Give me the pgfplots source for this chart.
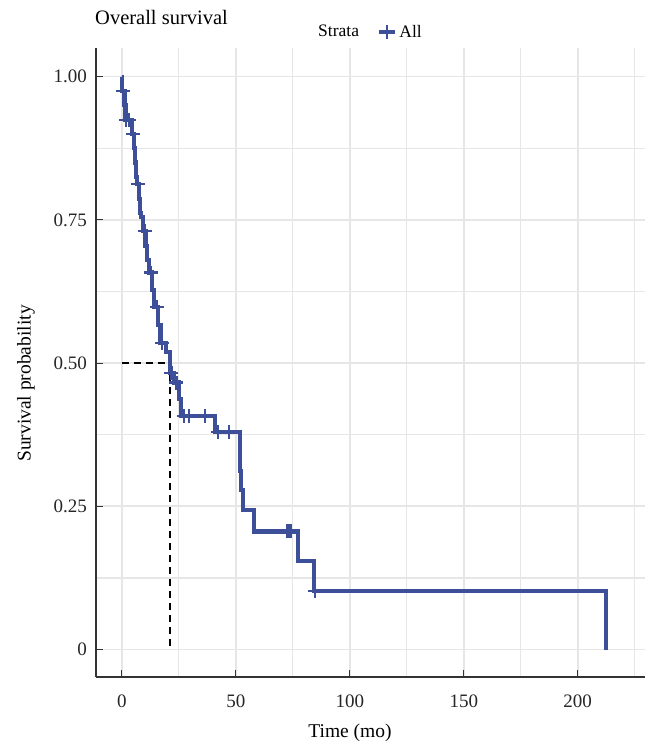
\documentclass[border=0pt]{standalone}
\usepackage{fontspec}
\setmainfont{Liberation Serif}
\usepackage{pgfplots}
\pgfplotsset{compat=1.18}
\definecolor{kmblue}{RGB}{62,79,153}
\definecolor{gridc}{RGB}{230,230,230}
\begin{document}
\begin{tikzpicture}
\useasboundingbox (-96bp,-67bp) rectangle (552bp,677bp);
\begin{axis}[
 at={(0,0)}, anchor=south west,
 scale only axis, width=549bp, height=629bp,
 xmin=-11.3, xmax=229.5, ymin=-0.048, ymax=1.05,
 axis x line*=bottom, axis y line*=left,
 axis line style={line width=1.1bp, color=black!80},
 xtick={0,50,100,150,200},
 minor xtick={25,75,125,175,225},
 ytick={0,0.25,0.5,0.75,1},
 yticklabels={0,0.25,0.50,0.75,1.00},
 minor ytick={0.125,0.375,0.625,0.875},
 tick align=inside,
 major tick length=7bp, minor tick length=0pt,
 major tick style={line width=1bp,color=black!80},
 grid=both,
 major grid style={line width=1.6bp,color=gridc},
 minor grid style={line width=1.4bp,color=gridc},
 tick label style={font=\fontsize{19bp}{22bp}\selectfont, color=black!85},
 xticklabel style={inner sep=0pt, yshift=-18bp},
 yticklabel style={inner sep=0pt, xshift=-9bp},
 /pgf/number format/assume math mode=true,
 clip=false,
 legend style={draw=none, fill=none, at={(axis description cs:0.512,1.0254)}, anchor=west,
   inner sep=0pt, font=\fontsize{17.5bp}{20bp}\selectfont},
 legend cell align=left,
]
\addplot[black, line width=2.2bp, dash pattern=on 7bp off 5bp, forget plot] coordinates {(0,0.5)(21,0.5)(21,0)};
\addplot[const plot, kmblue, line width=4.2bp, line join=miter,
  legend image code/.code={\draw[kmblue, line width=4.2bp] (0bp,0bp) -- (16bp,0bp); \draw[kmblue, line width=2.2bp] (8bp,-7bp) -- (8bp,7bp);}]
 coordinates {
 (0,1) (0.2,0.975) (1.2,0.95) (1.6,0.925) (4.4,0.90) (5.3,0.875) (5.8,0.85) (6.3,0.825)
 (6.8,0.8125) (7.4,0.787) (7.9,0.762) (8.4,0.755) (9.2,0.73) (10.4,0.704) (11.2,0.68)
 (11.9,0.658) (13.2,0.628) (14.2,0.598) (15.9,0.567) (17.0,0.535) (19.3,0.52)
 (21.0,0.483) (22.8,0.466) (25.0,0.437) (25.9,0.408) (40.8,0.38) (51.8,0.345)
 (52.0,0.312) (52.4,0.278) (53.3,0.243) (58.0,0.206) (77.3,0.154) (84.3,0.102) (212.3,0)
 };
\addlegendentry{All}
\addplot[only marks, mark=+, mark size=7bp, kmblue, mark options={line width=2.2bp}, forget plot]
 coordinates {
 (0.5,0.975) (1.9,0.925) (3.2,0.925) (5.0,0.90) (7.1,0.8125) (10.1,0.73) (12.7,0.658)
 (15.6,0.598) (17.8,0.535) (21.8,0.483) (24.0,0.466) (27.2,0.408) (29.6,0.408) (36.4,0.408)
 (42.1,0.38) (47.0,0.38) (72.7,0.206) (74.0,0.206) (84.6,0.102)
 };
\end{axis}
\node[anchor=base west, inner sep=0pt, font=\fontsize{20.5bp}{24bp}\selectfont] at (-1bp,652bp) {Overall survival};
\node[anchor=base west, inner sep=0pt, font=\fontsize{17.5bp}{20bp}\selectfont] at (222bp,640bp) {Strata};
\node[rotate=90, inner sep=0pt, font=\fontsize{19.5bp}{23bp}\selectfont] at (-70bp,293.5bp) {Survival probability};
\node[inner sep=0pt, font=\fontsize{19.5bp}{23bp}\selectfont] at (254bp,-55.5bp) {Time (mo)};
\end{tikzpicture}
\end{document}
